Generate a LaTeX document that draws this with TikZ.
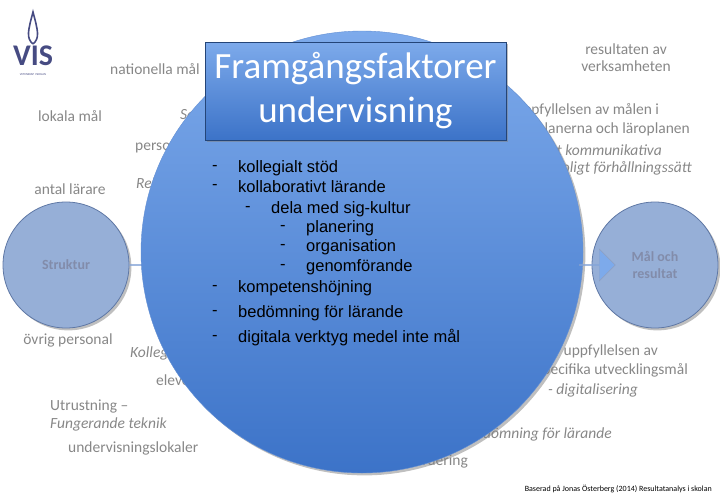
\documentclass[tikz,border=0pt]{standalone}
\usepackage{fontspec}
\setmainfont{Carlito}
\newfontfamily\arialf{Liberation Sans}
\usetikzlibrary{shapes.arrows,shadows}
\definecolor{gtxt}{RGB}{135,135,135}
\definecolor{bigtop}{RGB}{125,170,235}
\definecolor{bigbot}{RGB}{60,115,200}
\definecolor{smallc}{RGB}{150,175,215}
\definecolor{smallb}{RGB}{95,120,165}
\definecolor{visc}{RGB}{70,75,130}
\definecolor{stxt}{RGB}{130,140,170}
\begin{document}
\begin{tikzpicture}[x=1pt,y=-1pt,
  gt/.style={text=gtxt,font=\fontsize{15.5}{17}\selectfont,inner sep=0pt},
  gi/.style={gt,font=\fontsize{15.5}{17}\selectfont\itshape},
  smallcirc/.style={circle,minimum size=126pt,fill=smallc,draw=smallb,line width=0.8pt,text=stxt,font=\bfseries\fontsize{14}{17}\selectfont,align=center},
  blockarrow/.style={single arrow,fill=bigtop,draw=smallb!70,minimum height=36pt,minimum width=32pt,single arrow head extend=6pt,inner sep=0pt},
  bl/.style={anchor=west,font=\arialf\fontsize{16.5}{18}\selectfont,inner sep=0pt}]
\useasboundingbox (0,0) rectangle (720,498);
% grey texts
\node[gt,anchor=west] (t1) at (110,69) {nationella mål};
\node[gt] (t2) at (70,116) {lokala mål};
\node[gi,anchor=west] (t3) at (180,114) {Samverkan};
\node[gt,anchor=west] (t4) at (135,146) {personal};
\node[gt] (t5) at (70,189) {antal lärare};
\node[gi,anchor=west] (t6) at (136,183) {Rektor};
\node[gt] (t7) at (68,340) {övrig personal};
\node[gi,anchor=west] (t8) at (130,353) {Kollegialt lärande};
\node[gt,anchor=west] (t9) at (156,380) {elever};
\node[gt,anchor=west] (t10) at (50,406) {Utrustning –};
\node[gi,anchor=west] (t11) at (50,424) {Fungerande teknik};
\node[gt,anchor=west] (t12) at (68,448) {undervisningslokaler};
\node[gt,align=center] (t13) at (626,58) {resultaten av\\verksamheten};
\node[gt,anchor=west] (t14) at (515,110) {uppfyllelsen av målen i};
\node[gt,anchor=east] (t15) at (690,129) {i planerna och läroplanen};
\node[gi,anchor=east] (t16) at (662,150) {Ett kommunikativa};
\node[gi,anchor=east] (t17) at (692,168) {och förtroligt förhållningssätt};
\node[gt,anchor=east] (t18) at (658,351) {uppfyllelsen av};
\node[gt,anchor=east] (t19) at (688,370) {specifika utvecklingsmål};
\node[gi] (t20) at (593,390) {- digitalisering};
\node[gi,anchor=east] (t21) at (612,434) {bedömning för lärande};
\node[gt,anchor=east] (t22) at (468,461) {utvärdering};
\node[anchor=east,font=\fontsize{8}{9}\selectfont,inner sep=0pt] (foot) at (712,489) {Baserad på Jonas Österberg (2014) Resultatanalys i skolan};
% logo
\node[text=visc,font=\bfseries\fontsize{30}{30}\selectfont,inner sep=0pt] (vis) at (33,56) {VIS};
\node[text=visc,font=\fontsize{3}{3}\selectfont,inner sep=0pt] (vissub) at (33,75) {VETENSKAP I SKOLAN};
\draw[visc,line width=1.6pt] (33,44) .. controls (26,38) and (28,31) .. (33,12) .. controls (38,31) and (40,38) .. (33,44);
% small circles
\node[smallcirc,drop shadow] (s) at (66,265) {Struktur};
\node[smallcirc,drop shadow] (m) at (655,265) {Mål och\\resultat};
\node[blockarrow] (a1) at (147,265) {};
% big circle
\node[circle,minimum size=442pt,top color=bigtop,bottom color=bigbot,draw=bigbot!80,drop shadow,inner sep=0pt] (big) at (362,252) {};
\node[blockarrow] (a2) at (597,265) {};
% title box
\node[minimum width=301pt,minimum height=98pt,top color=bigtop,bottom color=bigbot,draw=bigbot!60!black,line width=0.4pt,drop shadow,text=white,font=\fontsize{37}{44}\selectfont,align=center] (title) at (355.5,91) {Framgångsfaktorer\\undervisning};
% bullets
\foreach \y/\dx/\txt [count=\i] in {168/0/kollegialt stöd,187/0/kollaborativt lärande,209/33/dela med sig-kultur,228/68/planering,247/68/organisation,267/68/genomförande,288/0/kompetenshöjning,313/0/bedömning för lärande,338/0/digitala verktyg medel inte mål}{
  \node[bl] (d\i) at (212+\dx,\y) {-};
  \node[bl] (b\i) at (238+\dx,\y) {\txt};
}
\end{tikzpicture}
\end{document}
